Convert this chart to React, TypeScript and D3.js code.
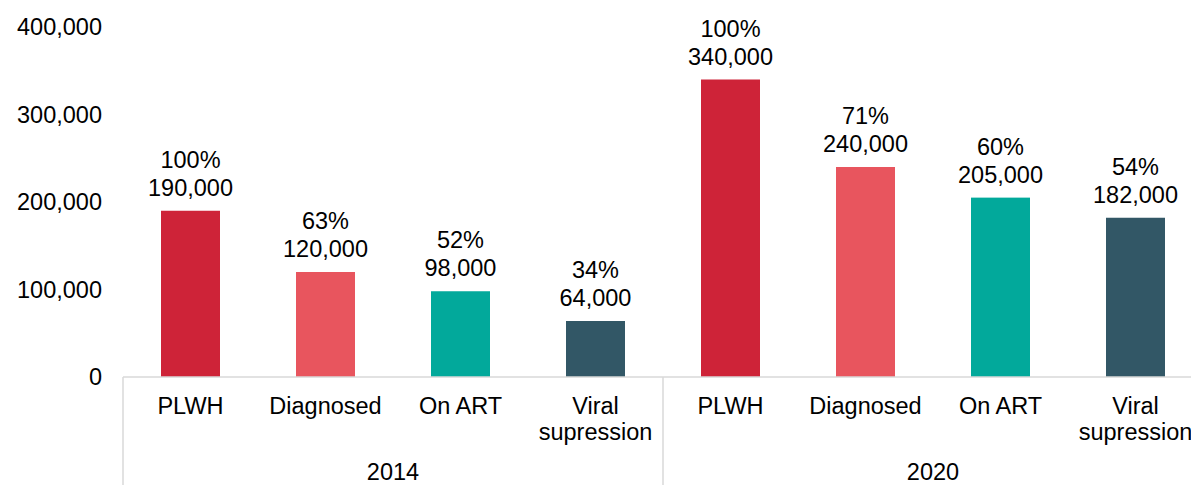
import React from 'react';
import * as d3 from 'd3';

const years = ['2014', '2020'];
const stages = ['PLWH', 'Diagnosed', 'On ART', 'Viral supression'];
const values2014 = [190000, 120000, 98000, 64000];
const values2020 = [340000, 240000, 205000, 182000];
const pct2014 = [100, 63, 52, 34];
const pct2020 = [100, 71, 60, 54];
const yTicks = [0, 100000, 200000, 300000, 400000];
const colors = ['#ce2338', '#e8555e', '#02a99b', '#325766'];

const W = 1191;
const H = 485;
const margin = { left: 123, top: 27, bottom: 108 };

const rows = years.flatMap((year, gi) =>
  stages.map((stage, si) => ({
    key: `${year}-${stage}`,
    year,
    stage,
    si,
    value: (gi === 0 ? values2014 : values2020)[si],
    pct: (gi === 0 ? pct2014 : pct2020)[si],
  }))
);

const fmt = d3.format(',');

export default function App() {
  const x = d3.scaleBand()
    .domain(rows.map(d => d.key))
    .range([margin.left, margin.left + 135 * rows.length])
    .paddingInner(0.563)
    .paddingOuter(0.2815);

  const y = d3.scaleLinear()
    .domain([0, 400000])
    .range([H - margin.bottom, margin.top]);

  const base = y(0);
  const step = x.step();
  const groupStart = (gi: number) => margin.left + gi * stages.length * step;
  const font = "'Liberation Sans', Arial, sans-serif";

  return (
    <svg width={W} height={H} style={{ position: 'absolute', left: 0, top: 0 }} fontFamily={font} fontSize={23.5}>
      {yTicks.map(t => (
        <text key={t} x={102} y={y(t)} dy="0.35em" textAnchor="end" fill="#000">{fmt(t)}</text>
      ))}

      {rows.map(d => {
        const cx = x(d.key)! + x.bandwidth() / 2;
        const top = y(d.value);
        return (
          <g key={d.key}>
            <rect x={x(d.key)} y={top} width={x.bandwidth()} height={base - top} fill={colors[d.si]} />
            <text x={cx} y={top - 43} textAnchor="middle" fill="#000">{d.pct}%</text>
            <text x={cx} y={top - 15} textAnchor="middle" fill="#000">{fmt(d.value)}</text>
            {d.stage === 'Viral supression' ? (
              <text x={cx} y={414} textAnchor="middle" fill="#000">
                <tspan x={cx}>Viral</tspan>
                <tspan x={cx} dy={26}>supression</tspan>
              </text>
            ) : (
              <text x={cx} y={414} textAnchor="middle" fill="#000">{d.stage}</text>
            )}
          </g>
        );
      })}

      <line x1={margin.left} x2={margin.left + step * rows.length} y1={base} y2={base} stroke="#d9d9d9" strokeWidth={1.5} />
      {d3.range(years.length + 1).map(i => (
        <line key={i} x1={groupStart(i)} x2={groupStart(i)} y1={base} y2={H} stroke="#d9d9d9" strokeWidth={1.5} />
      ))}
      {years.map((yr, gi) => (
        <text key={yr} x={groupStart(gi) + (stages.length * step) / 2} y={480} textAnchor="middle" fill="#000">{yr}</text>
      ))}
    </svg>
  );
}
